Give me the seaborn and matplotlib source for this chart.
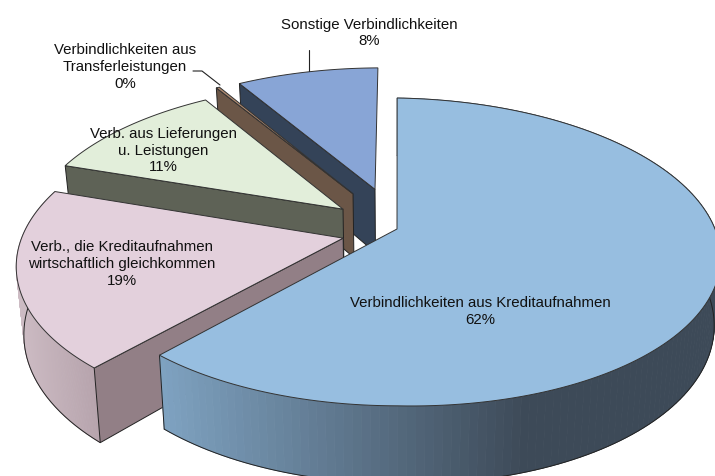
import matplotlib.pyplot as plt
import seaborn as sns
import numpy as np

names = ["Verbindlichkeiten aus Kreditaufnahmen",
         "Verb., die Kreditaufnahmen\nwirtschaftlich gleichkommen",
         "Verb. aus Lieferungen\nu. Leistungen",
         "Verbindlichkeiten aus\nTransferleistungen",
         "Sonstige Verbindlichkeiten"]
values = [61.6, 18.6, 11.1, 0.2, 8.5]

top_colors = ["#97bee0", "#e3d0dc", "#e2eeda", "#b08a70", "#88a5d6"]
cut_colors = ["#3d4a58", "#927f86", "#5e6256", "#6b5647", "#344358"]
band_left = ["#7fa3c2", "#cdbcc4", "#5e6256", "#6b5647", "#344358"]
band_right = ["#3d4a58", "#b5a2ab", "#5e6256", "#6b5647", "#344358"]

# explode per slice (pie units, x and y)
explode_x = [0.0, -0.170, -0.168, -0.134, -0.0615]
explode_y = [0.0, -0.053, 0.142, 0.248, 0.277]
radius = [1.0, 1.01, 1.0, 1.0, 1.0]

label_x = [480, 122, 163, 125, 369]
label_y = [311.5, 264, 150.5, 67, 33]

# look of the fake 3d: perspective and tilt of the disc
CX, CY = 397, 229
KX, KY = 318, 150.6
P = 0.149
SHEAR = -0.08
TURN = 2.2
DEPTH = 66


def project(u, v):
    den = 1 + P * v
    up = KY * v / den
    x = CX + KX * u / den + SHEAR * up
    # left half sits a little lower
    return x, CY - up + 6 * np.clip((CX - x) / 300, 0, None)


def drop(x, y, v):
    # points of the lower face
    den = 1 + P * v
    return CX + (x - CX) * 0.98, y + DEPTH / den


sns.set_style("white")
plt.rcParams['font.family'] = ['Liberation Sans', 'DejaVu Sans']

fig = plt.figure(figsize=(7.15, 4.76), dpi=100)
ax = fig.add_axes([0, 0, 1, 1])
ax.set_xlim(0, 715)
ax.set_ylim(476, 0)
ax.axis('off')

stops = np.cumsum([0] + values) * 3.6
line = "#222222"
z = 1

# back slices first, the big one last
for i in [4, 3, 2, 1, 0]:
    ox, oy = explode_x[i], explode_y[i]
    ax_, ay_ = project(ox, oy)
    th = np.radians(np.linspace(stops[i], stops[i + 1], 160) + TURN)
    us = ox + radius[i] * np.sin(th)
    vs = oy + radius[i] * np.cos(th)
    xs, ys = project(us, vs)
    bx, by = drop(xs, ys, vs)
    abx, aby = drop(ax_, ay_, oy)

    # outer band, shaded from left to right (only the two front slices show one)
    if i <= 1:
        c0 = np.array(sns.color_palette([band_left[i]])[0])
        c1 = np.array(sns.color_palette([band_right[i]])[0])
        lo, hi = (160, 530) if i == 0 else (15, 100)
        for k in range(len(xs) - 1):
            t = np.clip((xs[k] - lo) / (hi - lo), 0, 1)
            col = c0 + (c1 - c0) * t
            ax.fill([xs[k], xs[k + 1], bx[k + 1], bx[k]], [ys[k], ys[k + 1], by[k + 1], by[k]],
                    facecolor=col, edgecolor=col, linewidth=0.6, zorder=z)
        ax.plot(bx, by, color=line, lw=0.7, zorder=z + 1)

    # the big slice shows its end edge, the others their cut face
    if i == 0:
        ax.plot([xs[-1], bx[-1]], [ys[-1], by[-1]], color=line, lw=0.7, zorder=z + 1)
    else:
        ax.fill([ax_, xs[0], bx[0], abx], [ay_, ys[0], by[0], aby], facecolor=cut_colors[i],
                edgecolor=line, linewidth=0.7, zorder=z + 2)

    # top face
    ax.fill(np.r_[ax_, xs], np.r_[ay_, ys], facecolor=top_colors[i], edgecolor="#333333",
            linewidth=0.7, zorder=z + 4)
    z += 5

for i in range(len(values)):
    ax.text(label_x[i], label_y[i], f"{names[i]}\n{round(values[i])}%",
            ha='center', va='center', fontsize=10.8, color="#111111", linespacing=1.25, zorder=z)

# leader lines
ax.plot([309, 309], [50, 71], color=line, lw=0.8, zorder=z)
ax.plot([193, 202, 220], [71, 71, 85], color=line, lw=0.8, zorder=z)

plt.savefig("out.png", dpi=100)
plt.close()
